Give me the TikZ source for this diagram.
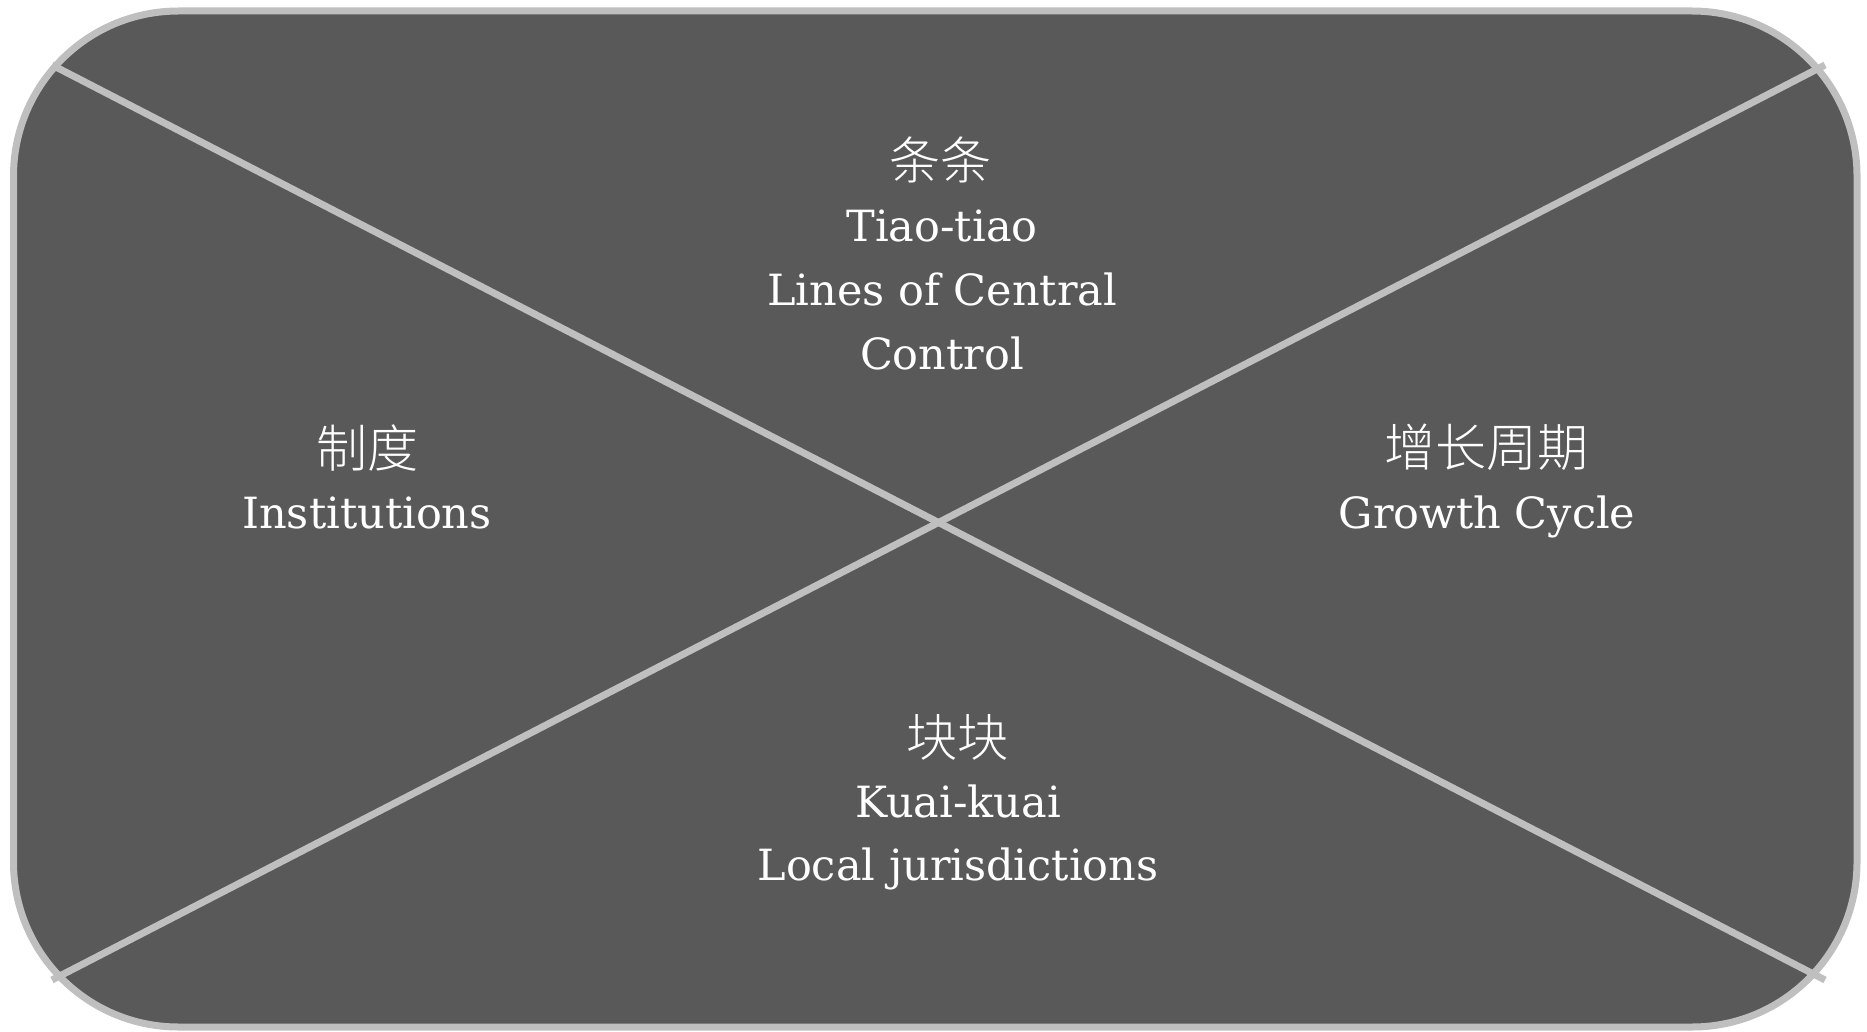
\documentclass[tikz,border=0pt]{standalone}
\usepackage{fontspec}
\setmainfont{DejaVu Serif}
\newfontfamily\cjk[UprightFont={* Light}]{Noto Sans CJK SC}
\definecolor{boxfill}{HTML}{595959}
\definecolor{boxline}{HTML}{BFBFBF}
\begin{document}
\begin{tikzpicture}[x=1pt,y=-1pt,
  lat/.style={text=white,inner sep=0pt,anchor=base,font=\fontsize{43}{54}\selectfont},
  han/.style={text=white,inner sep=0pt,anchor=center,font=\cjk\fontsize{51}{54}\selectfont},
  sep/.style={draw=boxline,line width=7pt}]
\useasboundingbox (0,0) rectangle (1867,1032);
\draw[fill=boxfill,draw=boxline,line width=7pt,rounded corners=165pt] (13.5,11) rectangle (1857,1027);
\coordinate (tl) at (52,65);
\coordinate (br) at (1825,980);
\coordinate (bl) at (52,980);
\coordinate (tr) at (1825,65);
\draw[sep] (tl) -- (br);
\draw[sep] (bl) -- (tr);
% top
\node[han] (t0) at (940,160) {条条};
\node[lat] (t1) at (942,242) {Tiao-tiao};
\node[lat] (t2) at (942,305) {Lines of Central};
\node[lat] (t3) at (942,369) {Control};
% bottom
\node[han] (b0) at (957,737) {块块};
\node[lat] (b1) at (958,817) {Kuai-kuai};
\node[lat] (b2) at (958,880) {Local jurisdictions};
% right
\node[han] (r0) at (1486,447) {增长周期};
\node[lat] (r1) at (1487,528) {Growth Cycle};
% left
\node[han] (l0) at (367,448) {制度};
\node[lat] (l1) at (367,528) {Institutions};
\end{tikzpicture}
\end{document}
